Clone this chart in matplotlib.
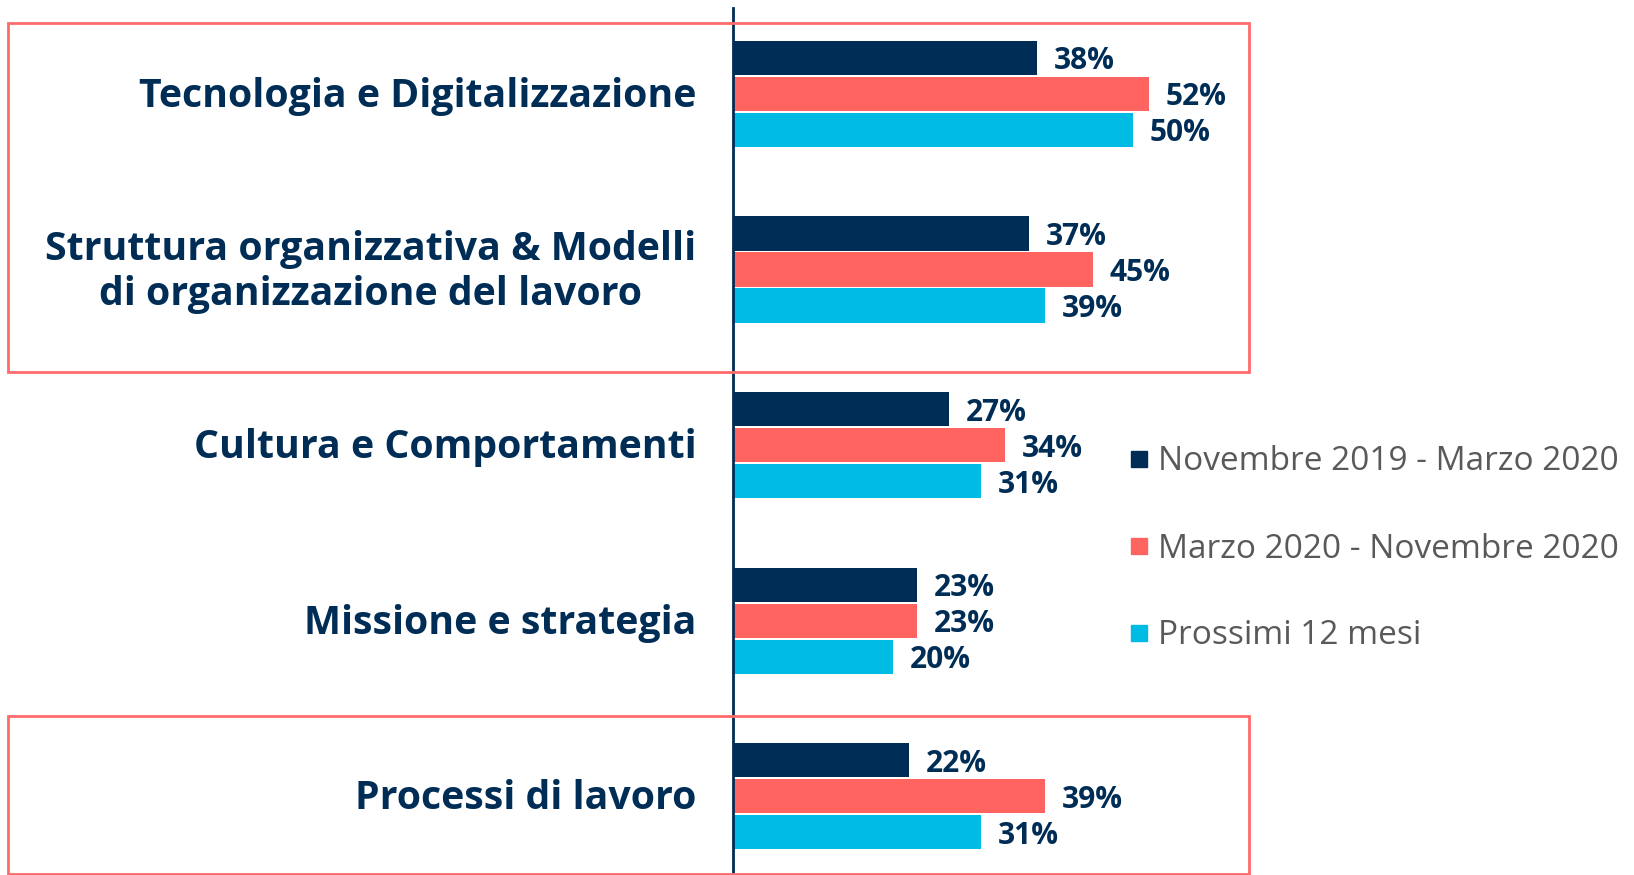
import matplotlib.pyplot as plt
from matplotlib.lines import Line2D
from matplotlib.patches import Rectangle
import numpy as np

categories = [
    "Tecnologia e Digitalizzazione",
    "Struttura organizzativa & Modelli\ndi organizzazione del lavoro",
    "Cultura e Comportamenti",
    "Missione e strategia",
    "Processi di lavoro",
]
series_names = [
    "Novembre 2019 - Marzo 2020",
    "Marzo 2020 - Novembre 2020",
    "Prossimi 12 mesi",
]
nov19_mar20 = [38, 37, 27, 23, 22]
mar20_nov20 = [52, 45, 34, 23, 39]
next_12m = [50, 39, 31, 20, 31]

colors = ["#002D56", "#FF6461", "#00BCE4"]
navy = "#002D56"
box_color = "#FF6B6B"

W, H = 1634, 875
fig = plt.figure(figsize=(W / 100, H / 100), dpi=100)
ax = fig.add_axes([733 / W, 0, 1 - 733 / W, 1])

y = np.arange(len(categories))
offsets = [-0.205, 0.0, 0.205]
for vals, off, c, name in zip([nov19_mar20, mar20_nov20, next_12m], offsets, colors, series_names):
    bars = ax.barh(y + off, vals, height=0.195, color=c, label=name)
    texts = ax.bar_label(bars, labels=[f"{v}%" for v in vals], padding=12,
                         fontsize=21.5, fontweight="bold", color=navy, family="Open Sans")
    for t in texts:
        t.set_verticalalignment("center_baseline")

ax.set_xlim(0, (W - 733) / 8.0)
ax.set_ylim(4.448, -0.535)
ax.set_xticks([])
ax.set_yticks([])

# category labels, right aligned left of the axis
for yi, cat in zip(y, categories):
    ax.annotate(cat, xy=(0, yi), xytext=(-26.5, -1.8), textcoords="offset points",
                ha="right", va="center", multialignment="center", linespacing=1.17,
                fontsize=28.3, fontweight="bold", family="Open Sans", color=navy,
                annotation_clip=False)

for s in ["top", "right", "bottom"]:
    ax.spines[s].set_visible(False)
ax.spines["left"].set_color(navy)
ax.spines["left"].set_linewidth(2)
ax.spines["left"].set_bounds(4.448, -0.49)

# highlighted groups
for (x0, y0, x1, y1) in [(8, 23, 1249, 372), (8, 716, 1249, 874)]:
    fig.patches.append(Rectangle((x0 / W, 1 - y1 / H), (x1 - x0) / W, (y1 - y0) / H,
                                 transform=fig.transFigure, fill=False,
                                 edgecolor=box_color, linewidth=2))

handles = [Line2D([], [], marker="s", ls="", color=c, markersize=11) for c in colors]
leg = fig.legend(handles, series_names, loc="center left",
                 bbox_to_anchor=(1131 / W, 1 - 549 / H), frameon=False,
                 borderpad=0, borderaxespad=0, handlelength=0.5, handletextpad=0.3,
                 labelspacing=1.62, prop={"family": "Open Sans", "size": 24})
for t in leg.get_texts():
    t.set_color("#595959")

fig.savefig("out.png", dpi=100)
